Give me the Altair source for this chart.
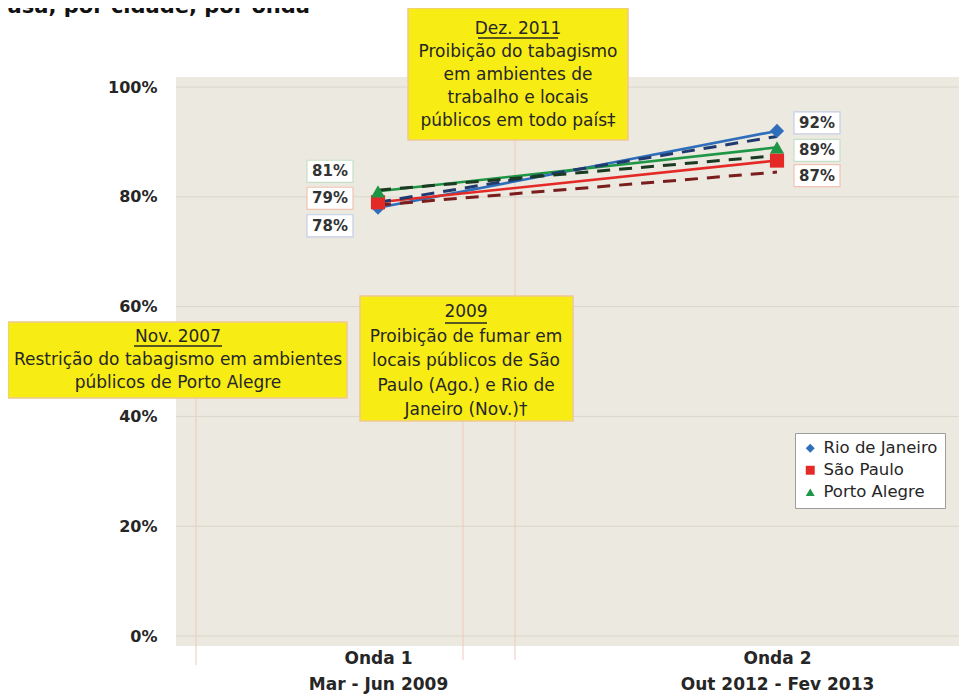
import altair as alt
import pandas as pd

# ---------------- data ----------------
waves = ["Onda 1", "Onda 2"]
periods = ["Mar - Jun 2009", "Out 2012 - Fev 2013"]
cities = ["Rio de Janeiro", "São Paulo", "Porto Alegre"]
rio = [0.78, 0.92]
sao_paulo = [0.79, 0.866]
porto_alegre = [0.81, 0.89]
rio_dashed = [0.79, 0.91]
sao_paulo_dashed = [0.785, 0.845]
porto_alegre_dashed = [0.812, 0.875]
y_ticks = [0, 0.2, 0.4, 0.6, 0.8, 1.0]
title_text = "casa, por cidade, por onda"
note_2011 = ["Dez. 2011", "Proibição do tabagismo", "em ambientes de",
             "trabalho e locais", "públicos em todo país‡"]
note_2009 = ["2009", "Proibição de fumar em", "locais públicos de São",
             "Paulo (Ago.) e Rio de", "Janeiro (Nov.)†"]
note_2007 = ["Nov. 2007", "Restrição do tabagismo em ambientes",
             "públicos de Porto Alegre"]

# ---------------- style / layout ----------------
FONT = "DejaVu Sans"
TXT = "#262626"
W, H = 783, 549
city_colors = ["#2F6EBA", "#E42A26", "#1F9646"]
dash_colors = ["#1E3A6E", "#7A1D1D", "#1B3A22"]
box_strokes = ["#C3CEE6", "#F1C3B4", "#C6E0C6"]
shapes = ["diamond", "square", "triangle-up"]
label_dx = {"Onda 1": -48, "Onda 2": 40}
label_dy = {("Rio de Janeiro", "Onda 1"): 18, ("São Paulo", "Onda 1"): -4,
            ("Porto Alegre", "Onda 1"): -20, ("Rio de Janeiro", "Onda 2"): -8,
            ("São Paulo", "Onda 2"): 15, ("Porto Alegre", "Onda 2"): 3}

solid = {"Rio de Janeiro": rio, "São Paulo": sao_paulo, "Porto Alegre": porto_alegre}
dashed = {"Rio de Janeiro": rio_dashed, "São Paulo": sao_paulo_dashed,
          "Porto Alegre": porto_alegre_dashed}

solid_df = pd.DataFrame([
    {"city": c, "wave": w, "value": solid[c][i], "line_color": city_colors[k],
     "box_stroke": box_strokes[k]}
    for k, c in enumerate(cities) for i, w in enumerate(waves)
])
dashed_df = pd.DataFrame([
    {"city": c, "wave": w, "value": dashed[c][i], "dash_color": dash_colors[k]}
    for k, c in enumerate(cities) for i, w in enumerate(waves)
])
ticks_df = pd.DataFrame({"value": y_ticks})
one = pd.DataFrame({"k": [0]})

label_expr = (f"datum.value == '{waves[0]}' ? ['{waves[0]}', '{periods[0]}'] : "
              f"['{waves[1]}', '{periods[1]}']")
xscale = alt.Scale(type="point", domain=waves, range=[202, 601], padding=0)
xaxis = alt.Axis(title=None, domain=False, ticks=False, grid=False, labelExpr=label_expr,
                 labelFont=FONT, labelFontSize=17, labelFontWeight="bold", labelColor=TXT,
                 labelPadding=14, labelLineHeight=26, labelAngle=0, labelLimit=400)
yscale = alt.Scale(domain=[0, 1], nice=False, zero=True)
yaxis = alt.Axis(title=None, domain=False, ticks=False, grid=False, values=y_ticks,
                 format=".0%", labelFont=FONT, labelFontSize=16, labelFontWeight="bold",
                 labelColor=TXT, labelPadding=19)


def X():
    return alt.X("wave:N", scale=xscale, axis=xaxis)


def Y():
    return alt.Y("value:Q", scale=yscale, axis=yaxis)


bg = alt.Chart(one).mark_rect(color="#ECE9E0").encode(
    x=alt.value(0), x2=alt.value(W), y=alt.value(-10), y2=alt.value(559))

grid = alt.Chart(ticks_df).mark_rule(color="#DAD6CA", strokeWidth=1).encode(y=Y())

event_lines = [(20, 311, 578), (287, 334, 573), (339, 53, 573)]
rules = [
    alt.Chart(one).mark_rule(color="#F0C9BC", strokeWidth=1).encode(
        x=alt.value(ex), y=alt.value(y1), y2=alt.value(y2))
    for ex, y1, y2 in event_lines
]

solid_lines = alt.Chart(solid_df).mark_line(strokeWidth=2.6).encode(
    x=X(), y=Y(), detail="city:N", color=alt.Color("line_color:N", scale=None))

dashed_lines = alt.Chart(dashed_df).mark_line(strokeWidth=3, strokeDash=[13, 9]).encode(
    x=X(), y=Y(), detail="city:N", color=alt.Color("dash_color:N", scale=None))

legend = alt.Legend(title=None, orient="none", legendX=619, legendY=346, fillColor="white",
                    strokeColor="#9C9C9C", padding=7, labelFont=FONT, labelFontSize=16.5,
                    labelColor=TXT, symbolSize=80, rowPadding=5, labelOffset=5,
                    symbolStrokeWidth=0)
points = alt.Chart(solid_df).mark_point(filled=True, opacity=1, size=200).encode(
    x=X(), y=Y(),
    color=alt.Color("city:N", scale=alt.Scale(domain=cities, range=city_colors), legend=legend),
    shape=alt.Shape("city:N", scale=alt.Scale(domain=cities, range=shapes), legend=legend),
)

label_layers = []
for k, c in enumerate(cities):
    for w in waves:
        sub = alt.Chart(solid_df).transform_filter(
            (alt.datum.city == c) & (alt.datum.wave == w))
        dx, dy = label_dx[w], label_dy[(c, w)]
        label_layers.append(sub.mark_point(
            shape="M-1,-0.48H1V0.48H-1Z", filled=True, fill="white", stroke=box_strokes[k],
            strokeWidth=1.2, opacity=1, size=2116, xOffset=dx, yOffset=dy
        ).encode(x=X(), y=Y()))
        label_layers.append(sub.mark_text(
            font=FONT, fontSize=15, fontWeight="bold", color="#333333",
            baseline="middle", dx=dx, dy=dy
        ).encode(x=X(), y=Y(), text=alt.Text("value:Q", format=".0%")))

notes = [
    # lines, x1, x2, y1, y2, center-x, first-line y, line height, underline half width, underline y
    (note_2011, 232, 452, -79, 53, 342, -58, 23, 40, -49),
    (note_2009, 184, 397, 209, 334, 290, 225, 24.5, 21, 236),
    (note_2007, -168, 171, 235, 311, 2, 250, 23, 44, 259),
]
note_layers = []
for lines, x1, x2, y1, y2, cx, cy, lh, uw, uy in notes:
    note_layers.append(alt.Chart(one).mark_rect(
        color="#F7EC14", stroke="#F0C890", strokeWidth=1.5).encode(
        x=alt.value(x1), x2=alt.value(x2), y=alt.value(y1), y2=alt.value(y2)))
    note_layers.append(alt.Chart(one).mark_text(
        text=lines, font=FONT, fontSize=17, color=TXT, align="center",
        baseline="middle", lineHeight=lh).encode(x=alt.value(cx), y=alt.value(cy)))
    note_layers.append(alt.Chart(one).mark_rule(color=TXT, strokeWidth=1.3).encode(
        x=alt.value(cx - uw), x2=alt.value(cx + uw), y=alt.value(uy)))

title = alt.Chart(one).mark_text(
    text=title_text, font=FONT, fontSize=21, fontWeight="bold", color="#111111",
    align="right", baseline="alphabetic").encode(x=alt.value(134), y=alt.value(-74))

chart = alt.layer(
    bg, grid, *rules, solid_lines, dashed_lines, points, *label_layers,
    *note_layers, title
).properties(
    width=W, height=H,
    autosize=alt.AutoSizeParams(type="none"),
    padding={"left": 168, "top": 79, "right": 0, "bottom": 60},
).configure_view(stroke=None, fill=None)

chart.save("out.html", embed_options={"renderer": "svg", "actions": False})
